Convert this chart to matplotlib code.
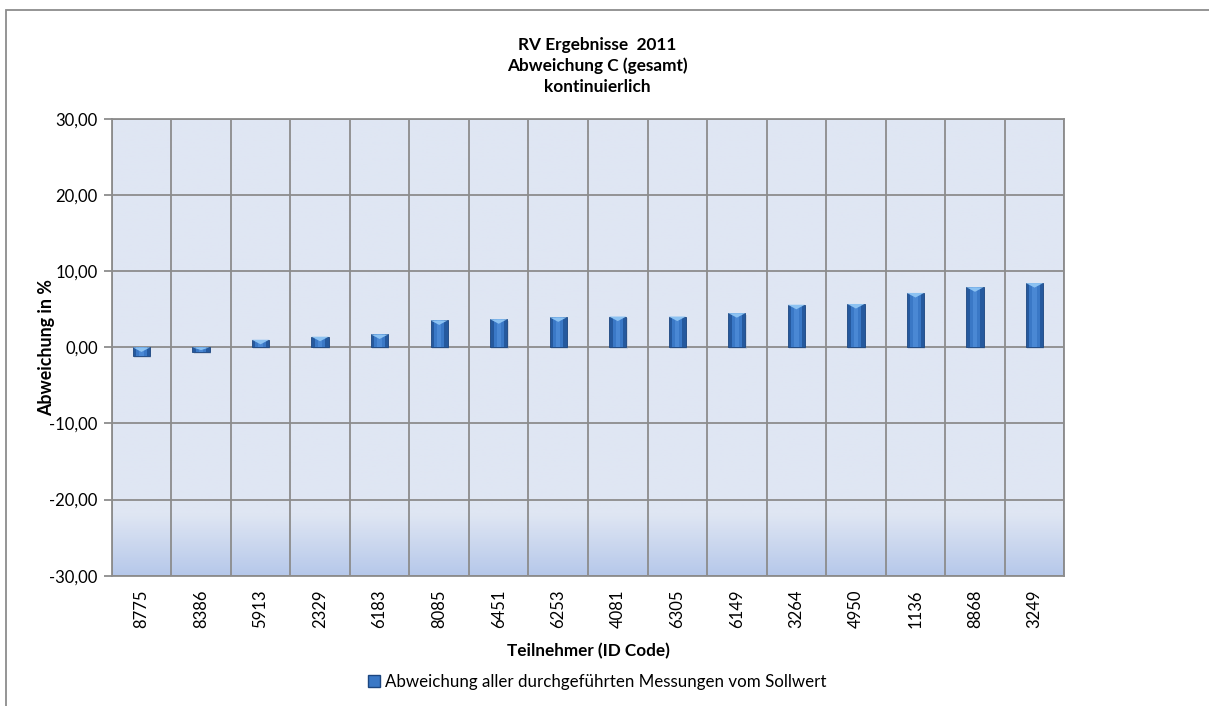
import numpy as np
import matplotlib
matplotlib.use("Agg")
import matplotlib.pyplot as plt
from matplotlib.patches import Patch, Rectangle, Polygon
from matplotlib.colors import LinearSegmentedColormap

# data
teilnehmer = ["8775", "8386", "5913", "2329", "6183", "8085", "6451", "6253",
              "4081", "6305", "6149", "3264", "4950", "1136", "8868", "3249"]
abweichung = [-1.2, -0.6, 1.0, 1.4, 1.7, 3.55, 3.7, 3.95,
              4.05, 4.05, 4.5, 5.6, 5.7, 7.15, 7.9, 8.45]
y_ticks = [-30, -20, -10, 0, 10, 20, 30]

plt.rcParams['font.family'] = ['Lato', 'DejaVu Sans']

fig = plt.figure(figsize=(12.09, 7.06), dpi=100)
ax = fig.add_axes([0.0924, 0.1846, 0.7879, 0.6468])

# outer chart border
fig.patches.append(Rectangle((6 / 1209, -0.05), 1.2, 1 - 9.5 / 706 + 0.05,
                             transform=fig.transFigure, fill=False,
                             edgecolor='#8c8c8c', linewidth=1.3, zorder=0))

n = len(teilnehmer)
x = np.arange(n)

# plot area background with gradient at the bottom
grad = np.ones((200, 2))
yy = np.linspace(-30, 30, 200)
grad[:, 0] = np.clip((-22 - yy) / 8, 0, 1)
grad[:, 1] = grad[:, 0]
cmap = LinearSegmentedColormap.from_list('bg', ['#dfe6f3', '#b6c8ea'])
ax.imshow(grad, extent=(-0.5, n - 0.5, -30, 30), origin='lower',
          aspect='auto', cmap=cmap, vmin=0, vmax=1, zorder=0)

# grid
for v in y_ticks:
    ax.axhline(v, color='#8c8c8c', linewidth=1.3, zorder=1)
for b in np.arange(-0.5, n, 1.0):
    ax.axvline(b, color='#8c8c8c', linewidth=1.3, zorder=1)

# bars with a simple bevel look
w = 0.29
ax.bar(x + 0.02, abweichung, width=w, bottom=-0.25, color='#7f8fa8',
       alpha=0.25, zorder=2)
ax.bar(x, abweichung, width=w, color='#25599e', edgecolor='#1c4680',
       linewidth=0.6, zorder=3)
ax.bar(x, abweichung, width=w * 0.6, color='#3a78c6', zorder=4)
ax.bar(x, abweichung, width=w * 0.25, color='#4a88d4', zorder=4)
for xi, v in zip(x, abweichung):
    top = max(v, 0)
    h = min(0.6, abs(v) * 0.6)
    tri = Polygon([[xi - w / 2, top], [xi + w / 2, top], [xi, top - h]],
                  closed=True, color='#8cc2f2', zorder=5, linewidth=0)
    ax.add_patch(tri)

ax.set_xlim(-0.5, n - 0.5)
ax.set_ylim(-30, 30)
ax.set_yticks(y_ticks)
ax.set_yticklabels([f"{v:.2f}".replace('.', ',') for v in y_ticks], fontsize=12)
ax.set_xticks(x)
ax.set_xticklabels(teilnehmer, rotation=90, fontsize=12)
ax.tick_params(axis='y', length=6, color='#8c8c8c', width=1.3, pad=4)
ax.tick_params(axis='x', length=0, pad=10)
for s in ax.spines.values():
    s.set_color('#8c8c8c')
    s.set_linewidth(1.3)

ax.set_ylabel('Abweichung in %', fontsize=12.8, fontweight='bold', labelpad=-4)
ax.set_xlabel('Teilnehmer (ID Code)', fontsize=12.3, fontweight='bold', labelpad=11)

fig.text(0.494, 1 - 66 / 706, 'RV Ergebnisse  2011\nAbweichung C (gesamt)\nkontinuierlich',
         ha='center', va='center', fontsize=12.4, fontweight='bold',
         linespacing=1.35)

handle = Patch(facecolor='#3a78c6', edgecolor='#1c4680')
fig.legend([handle], ['Abweichung aller durchgeführten Messungen vom Sollwert'],
           loc='center', bbox_to_anchor=(0.494, 1 - 682 / 706), frameon=False,
           fontsize=12.2, handlelength=0.7, handleheight=0.7, handletextpad=0.3)

fig.savefig('out.png', dpi=100)
